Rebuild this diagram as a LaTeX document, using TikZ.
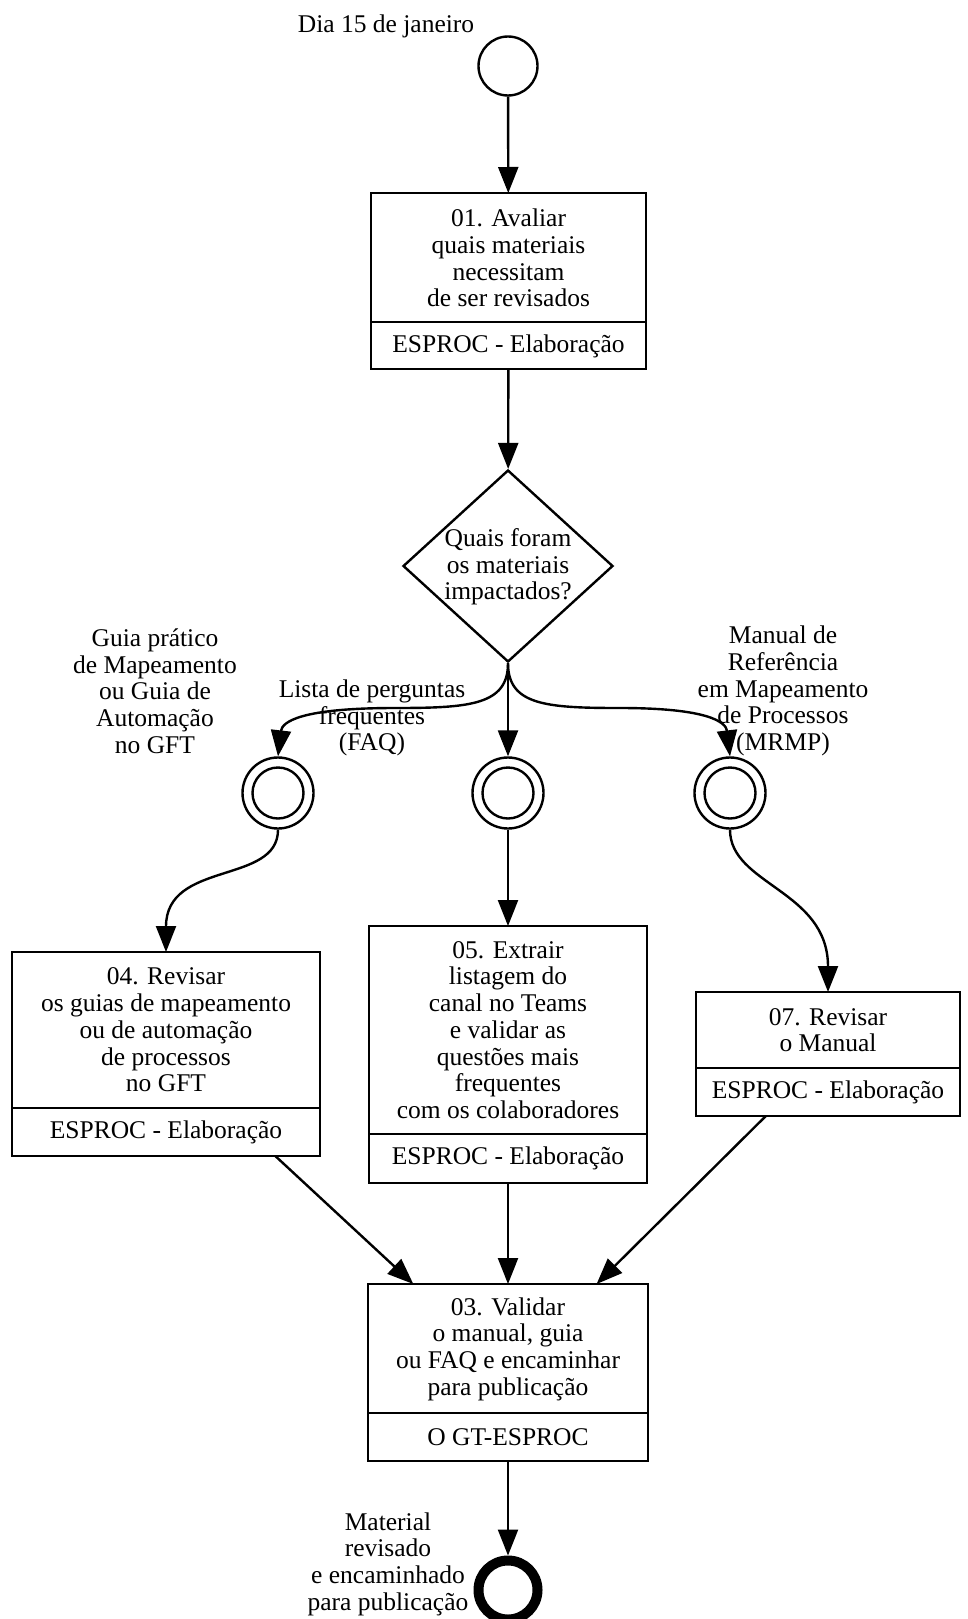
\documentclass[tikz,border=0pt]{standalone}
\usepackage{fontspec}
\setmainfont{Liberation Serif}
\usetikzlibrary{shapes.geometric,arrows.meta}
\tikzset{
  ln/.style={line width=2.4pt},
  arr/.style={ln,-{Triangle[length=26pt,width=20pt]}},
  box/.style={draw,ln,rectangle,inner sep=0pt,outer sep=0pt},
  txt/.style={align=center,inner sep=0pt,font=\fontsize{25.5}{26.7}\selectfont},
  evt/.style={draw,ln,circle,inner sep=0pt}
}
\begin{document}
\begin{tikzpicture}[x=1pt,y=-1pt]
\useasboundingbox (0,0) rectangle (968,1619);
% start
\node[evt,minimum size=59pt] (start) at (508,66) {};
\node[txt] (lstart) at (386,26) {Dia 15 de janeiro};
% task 01
\node[box,minimum width=275pt,minimum height=176pt] (b01) at (508.5,281) {};
\draw[ln] (b01.west |- 0,322) -- (b01.east |- 0,322);
\node[txt] (b01t) at (508.5,258) {01. Avaliar\\quais materiais\\necessitam\\de ser revisados};
\node[txt] (b01r) at (508.5,346) {ESPROC - Elaboração};
% gateway
\node[draw,ln,diamond,minimum width=210pt,minimum height=192pt,inner sep=0pt] (dia) at (508,566) {};
\node[txt] (diat) at (508,567) {Quais foram\\os materiais\\impactados?};
% intermediate events
\node[evt,minimum size=71pt] (c1) at (278,793) {};
\node[evt,minimum size=51pt] (c1i) at (278,793) {};
\node[evt,minimum size=71pt] (c2) at (508,793) {};
\node[evt,minimum size=51pt] (c2i) at (508,793) {};
\node[evt,minimum size=71pt] (c3) at (730,793) {};
\node[evt,minimum size=51pt] (c3i) at (730,793) {};
% labels
\node[txt] (l1) at (155,691) {Guia prático\\de Mapeamento\\ou Guia de\\Automação\\no GFT};
\node[txt] (l2) at (372,718) {Lista de perguntas\\frequentes\\(FAQ)};
\node[txt] (l3) at (783,691) {Manual de\\Referência\\em Mapeamento\\de Processos\\(MRMP)};
% task 04
\node[box,minimum width=308pt,minimum height=204pt] (b04) at (166,1054) {};
\draw[ln] (b04.west |- 0,1108) -- (b04.east |- 0,1108);
\node[txt] (b04t) at (166,1030) {04. Revisar\\os guias de mapeamento\\ou de automação\\de processos\\no GFT};
\node[txt] (b04r) at (166,1132) {ESPROC - Elaboração};
% task 05
\node[box,minimum width=278pt,minimum height=257pt] (b05) at (508,1054.5) {};
\draw[ln] (b05.west |- 0,1134) -- (b05.east |- 0,1134);
\node[txt] (b05t) at (508,1030) {05. Extrair\\listagem do\\canal no Teams\\e validar as\\questões mais\\frequentes\\com os colaboradores};
\node[txt] (b05r) at (508,1158) {ESPROC - Elaboração};
% task 07
\node[box,minimum width=264pt,minimum height=124pt] (b07) at (828,1054) {};
\draw[ln] (b07.west |- 0,1068) -- (b07.east |- 0,1068);
\node[txt] (b07t) at (828,1030) {07. Revisar\\o Manual};
\node[txt] (b07r) at (828,1092) {ESPROC - Elaboração};
% task 03
\node[box,minimum width=280pt,minimum height=177pt] (b03) at (508,1372.5) {};
\draw[ln] (b03.west |- 0,1413) -- (b03.east |- 0,1413);
\node[txt] (b03t) at (508,1349) {03. Validar\\o manual, guia\\ou FAQ e encaminhar\\para publicação};
\node[txt] (b03r) at (508,1437) {O GT-ESPROC};
% end
\node[draw,circle,line width=10pt,minimum size=59pt,inner sep=0pt] (end) at (508,1590) {};
\node[txt] (lend) at (388,1564) {Material\\revisado\\e encaminhado\\para publicação};
% connectors
\draw[arr] (start) -- (b01);
\draw[arr] (b01) -- (dia);
\draw[arr] (dia.south) .. controls (508,705) and (470,708) .. (395,708) .. controls (300,708) and (282,722) .. (c1.north);
\draw[arr] (dia.south) -- (c2.north);
\draw[arr] (dia.south) .. controls (508,705) and (546,708) .. (620,708) .. controls (708,708) and (726,722) .. (c3.north);
\draw[arr] (c1.south) .. controls (278,885) and (166,860) .. (b04.north);
\draw[arr] (c2.south) -- (b05.north);
\draw[arr] (c3.south) .. controls (730,885) and (828,890) .. (b07.north);
\draw[arr] (b04) -- (b03);
\draw[arr] (b05) -- (b03);
\draw[arr] (b07) -- (b03);
\draw[arr] (b03) -- (end);
\end{tikzpicture}
\end{document}
